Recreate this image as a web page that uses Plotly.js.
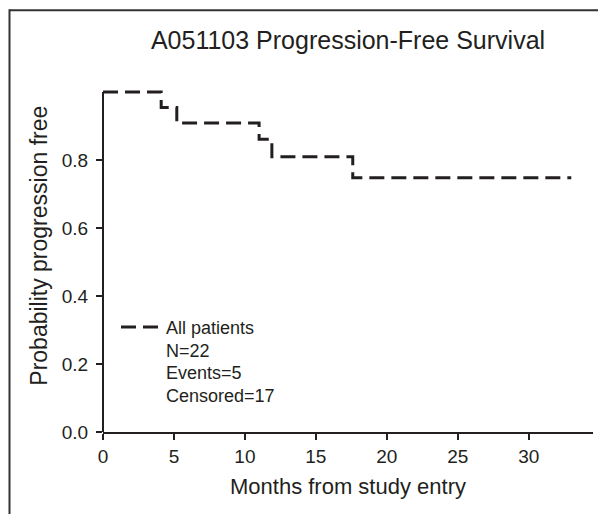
<!DOCTYPE html>
<html>
<head>
<meta charset="utf-8">
<script src="https://cdn.plot.ly/plotly-3.0.1.min.js"></script>
<style>html,body{margin:0;padding:0;background:#fff;}</style>
</head>
<body>
<div id="chart" style="width:598px;height:514px;"></div>
<script>
// Kaplan-Meier step data (months, probability progression free)
var months = [0, 4.1, 5.2, 11.0, 11.9, 17.6, 33.0];
var survival = [1.0, 0.955, 0.909, 0.861, 0.810, 0.748, 0.748];
var seriesName = 'All patients';
var legendLines = ['N=22', 'Events=5', 'Censored=17'];
var xTicks = [0, 5, 10, 15, 20, 25, 30];
var yTicks = [0, 0.2, 0.4, 0.6, 0.8];
var yTickLabels = ['0.0', '0.2', '0.4', '0.6', '0.8'];

var ink = '#231f20';
var sans = 'Liberation Sans, Arial, Helvetica, sans-serif';

var trace = {
  x: months,
  y: survival,
  type: 'scatter',
  mode: 'lines',
  line: {shape: 'hv', color: ink, width: 3, dash: '15px,7px'},
  name: seriesName,
  showlegend: true,
  hoverinfo: 'x+y'
};

var pxToPaperX = function (px) { return (px - 103) / 490; };
var pxToPaperY = function (py) { return (432.3 - py) / 344; };

var annotations = legendLines.map(function (t, i) {
  return {
    text: t, xref: 'paper', yref: 'paper',
    x: pxToPaperX(164), y: pxToPaperY(351 + i * 22.5),
    xanchor: 'left', yanchor: 'middle', showarrow: false,
    font: {family: sans, size: 18, color: ink}
  };
});
annotations.push({
  text: 'Probability progression free', xref: 'paper', yref: 'paper',
  x: pxToPaperX(39), y: pxToPaperY(246), xanchor: 'center', yanchor: 'middle',
  textangle: -90, showarrow: false,
  font: {family: sans, size: 23, color: ink}
});

var layout = {
  width: 598, height: 514,
  margin: {l: 103, r: 5, t: 88, b: 82, pad: 0},
  paper_bgcolor: '#fff', plot_bgcolor: '#fff',
  title: {
    text: 'A051103 Progression-Free Survival',
    font: {family: sans, size: 25, color: ink},
    x: 0.5, xref: 'paper', xanchor: 'center',
    y: 1 - 40 / 514, yref: 'container', yanchor: 'middle'
  },
  xaxis: {
    range: [0, 34.53], tickvals: xTicks, ticks: 'outside', ticklen: 6, tickwidth: 2,
    tickcolor: ink, showline: true, linewidth: 2, linecolor: ink,
    showgrid: false, zeroline: false,
    tickfont: {family: sans, size: 19, color: ink},
    title: {text: 'Months from study entry', font: {family: sans, size: 22, color: ink}, standoff: 13}
  },
  yaxis: {
    range: [0, 1.012], tickvals: yTicks, ticktext: yTickLabels, ticks: 'outside', ticklen: 6, tickwidth: 2,
    tickcolor: ink, showline: false, showgrid: false, zeroline: false,
    ticklabelstandoff: 4,
    tickfont: {family: sans, size: 19, color: ink}
  },
  showlegend: true,
  legend: {
    x: pxToPaperX(116), y: pxToPaperY(309), xanchor: 'left', yanchor: 'top',
    bgcolor: 'rgba(0,0,0,0)', borderwidth: 0, itemwidth: 40,
    font: {family: sans, size: 18, color: ink}
  },
  annotations: annotations,
  shapes: [
    // y axis line from 0 to 1
    {type: 'line', xref: 'paper', yref: 'y', x0: 0, x1: 0, y0: 0, y1: 1, line: {color: ink, width: 2}},
    // panel frame (top and left)
    {type: 'line', xref: 'paper', yref: 'paper', x0: pxToPaperX(9.5), x1: pxToPaperX(600), y0: pxToPaperY(10.5), y1: pxToPaperY(10.5), line: {color: '#333', width: 2}},
    {type: 'line', xref: 'paper', yref: 'paper', x0: pxToPaperX(9.5), x1: pxToPaperX(9.5), y0: pxToPaperY(9.5), y1: pxToPaperY(516), line: {color: '#333', width: 2}}
  ]
};

Plotly.newPlot('chart', [trace], layout, {displayModeBar: false, staticPlot: true});
</script>
</body>
</html>
